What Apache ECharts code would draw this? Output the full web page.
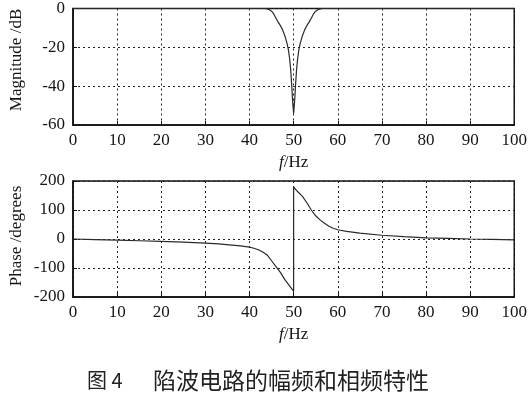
<!DOCTYPE html>
<html><head><meta charset="utf-8">
<script src="https://cdn.jsdelivr.net/npm/echarts@6/dist/echarts.min.js"></script>
<style>html,body{margin:0;padding:0;background:#fff}#c{width:530px;height:393px}</style>
</head><body><div id="c"></div>
<script>
var magFreq = [0,10,20,30,40,43.5,44,44.5,45,45.5,46,46.5,47,47.5,48,48.5,48.8,49.1,49.35,49.55,49.7,49.85,50,50.15,50.3,50.45,50.65,50.9,51.2,51.5,52,52.5,53,53.5,54,54.5,55,55.5,56,56.5,60,70,80,90,100];
var magDb   = [0,0,0,0,0,0,-0.2,-0.6,-1.4,-2.8,-5,-7,-8.8,-11,-14,-18,-21,-26,-32,-39,-45,-50,-54,-50,-45,-39,-32,-26,-21,-18,-14,-11,-8.8,-7,-5,-2.8,-1.4,-0.6,-0.2,0,0,0,0,0,0];
var phaseFreq = [0,5,10,15,20,25,30,33,36,38,40,41,42,43,44,45,46,47,48,49,49.5,50,50,50.5,51,52,53,54,55,56,57,58,59,60,62,65,70,75,80,85,90,95,100];
var phaseDeg  = [0,-2,-4,-6,-8,-11,-14,-17,-21,-24,-28,-32,-37,-45,-55,-75,-95,-115,-140,-160,-170,-180,180,170,162,147,125,100,80,66,54,44,37,32,26,20,13,8,4,2,0,-1.5,-3];
var xTicks = [0,10,20,30,40,50,60,70,80,90,100];
var magTicks = [-60,-40,-20,0];
var phaseTicks = [-200,-100,0,100,200];

function pairs(a,b){return a.map(function(v,i){return [v,b[i]];});}
var serif = '"Liberation Serif","DejaVu Serif",serif';
var txt = '#151515';
function xAxis(idx){
  return {gridIndex:idx,type:'value',min:xTicks[0],max:xTicks[xTicks.length-1],interval:10,
    axisLine:{show:true,onZero:false,lineStyle:{color:'#111',width:1.5}},
    axisTick:{show:true,inside:true,length:4,lineStyle:{color:'#111'}},
    axisLabel:{color:txt,fontFamily:serif,fontSize:17,margin:7},
    splitLine:{show:true,lineStyle:{color:'#222',type:[2,3],width:1}},
    name:'{i|f}/Hz',nameLocation:'middle',nameGap:29,
    nameTextStyle:{color:txt,fontFamily:serif,fontSize:17,rich:{i:{fontStyle:'italic',fontFamily:serif,fontSize:17,color:txt}}}
  };
}
function yAxis(idx,mn,mx,iv){
  return {gridIndex:idx,type:'value',min:mn,max:mx,interval:iv,
    axisLine:{show:true,onZero:false,lineStyle:{color:'#111',width:1.5}},
    axisTick:{show:true,inside:true,length:4,lineStyle:{color:'#111'}},
    axisLabel:{color:txt,fontFamily:serif,fontSize:17,margin:8},
    splitLine:{show:true,lineStyle:{color:'#222',type:[2,3],width:1}}
  };
}
var chart = echarts.init(document.getElementById('c'),null,{renderer:'canvas'});
chart.setOption({
  backgroundColor:'#fff',
  animation:false,
  grid:[
    {left:73,right:14,top:6,height:119,show:true,borderColor:'#111',borderWidth:1.5,backgroundColor:'transparent'},
    {left:73,right:14,top:181,height:116,show:true,borderColor:'#111',borderWidth:1.5,backgroundColor:'transparent'}
  ],
  xAxis:[xAxis(0),xAxis(1)],
  yAxis:[yAxis(0,magTicks[0],magTicks[magTicks.length-1],20),yAxis(1,phaseTicks[0],phaseTicks[phaseTicks.length-1],100)],
  series:[
    {type:'line',xAxisIndex:0,yAxisIndex:0,data:pairs(magFreq,magDb),showSymbol:false,smooth:false,
      lineStyle:{color:'#2a2a2a',width:1.2}},
    {type:'line',xAxisIndex:1,yAxisIndex:1,data:pairs(phaseFreq,phaseDeg),showSymbol:false,smooth:false,
      lineStyle:{color:'#2a2a2a',width:1.2}}
  ],
  graphic:[
    {type:'text',x:17,y:60,rotation:Math.PI/2,style:{text:'Magnitude /dB',font:'17px '+serif,fill:txt,align:'center',verticalAlign:'middle'}},
    {type:'text',x:17,y:236,rotation:Math.PI/2,style:{text:'Phase /degrees',font:'17px '+serif,fill:txt,align:'center',verticalAlign:'middle'}},
    {type:'text',x:87,y:380,style:{text:'图 4',font:'20px "Noto Sans CJK SC"',fill:'#222',align:'left',verticalAlign:'middle'}},
    {type:'text',x:153,y:380,style:{text:'陷波电路的幅频和相频特性',font:'23px "Noto Sans CJK SC"',fill:'#222',align:'left',verticalAlign:'middle'}}
  ]
});
</script></body></html>
